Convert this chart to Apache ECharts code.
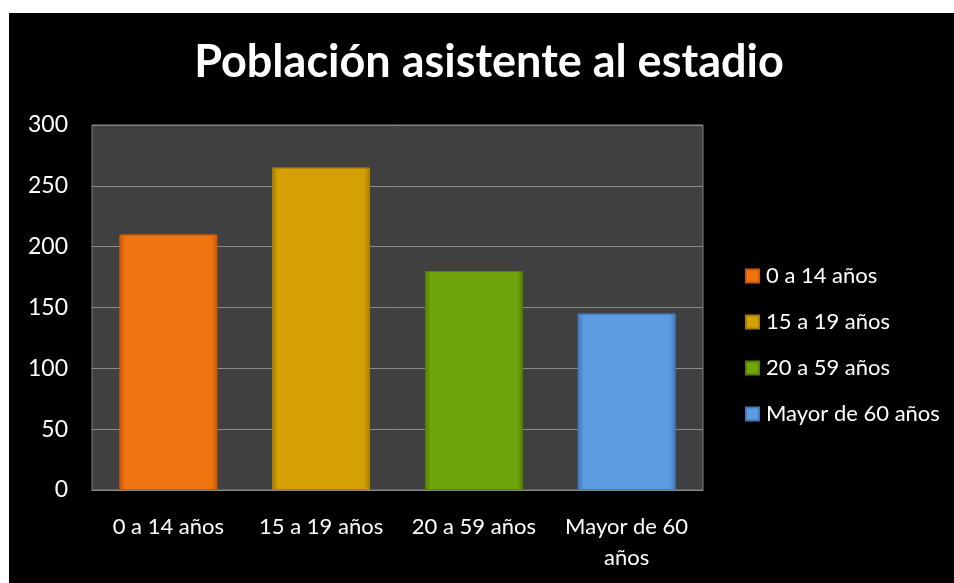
<!DOCTYPE html>
<html>
<head>
<meta charset="utf-8">
<script src="https://cdn.jsdelivr.net/npm/echarts@6/dist/echarts.min.js"></script>
<style>
  html, body { margin: 0; padding: 0; background: #fff; }
  #chart { position: absolute; left: 9px; top: 13px; width: 945px; height: 570px; }
</style>
</head>
<body>
<div id="chart"></div>
<script>
// datos
const categories = ['0 a 14 años', '15 a 19 años', '20 a 59 años', 'Mayor de 60 años'];
const axisLabels = ['0 a 14 años', '15 a 19 años', '20 a 59 años', 'Mayor de 60\naños'];
const values = [210, 265, 180, 145];
const colors = ['#F07410', '#D4A004', '#6FA40A', '#5B9BE0'];
const edgeColors = ['#C85A08', '#A87E02', '#557F06', '#4578B8'];

const chart = echarts.init(document.getElementById('chart'));

const series = categories.map(function (name, i) {
  return {
    name: name,
    type: 'bar',
    stack: 'total',
    barWidth: '64%',
    data: values.map(function (v, j) { return j === i ? v : '-'; }),
    itemStyle: {
      color: new echarts.graphic.LinearGradient(0, 0, 1, 0, [
        { offset: 0, color: edgeColors[i] },
        { offset: 0.06, color: colors[i] },
        { offset: 0.94, color: colors[i] },
        { offset: 1, color: edgeColors[i] }
      ]),
      borderColor: edgeColors[i],
      borderWidth: 1
    }
  };
});

chart.setOption({
  backgroundColor: '#000',
  color: colors,
  title: {
    text: 'Población asistente al estadio',
    left: 475,
    textAlign: 'center',
    top: 22,
    textStyle: { color: '#fff', fontSize: 45, fontWeight: 'bold', fontFamily: 'Lato' }
  },
  legend: {
    orient: 'vertical',
    left: 731,
    top: 247,
    itemWidth: 13,
    itemHeight: 13,
    itemGap: 24,
    icon: 'rect',
    data: categories,
    textStyle: { color: '#fff', fontSize: 22, fontFamily: 'Lato', padding: [0, 0, 0, 2] }
  },
  grid: {
    left: 83, top: 112, right: 251, bottom: 93,
    show: true,
    backgroundColor: '#404040',
    borderColor: '#808080',
    borderWidth: 1
  },
  xAxis: {
    type: 'category',
    data: categories,
    axisTick: { show: false },
    axisLine: { lineStyle: { color: '#8a8a8a' } },
    axisLabel: {
      color: '#fff', fontSize: 22, fontFamily: 'Lato', margin: 21, lineHeight: 31,
      interval: 0, hideOverlap: false,
      formatter: function (v, i) { return axisLabels[i]; }
    }
  },
  yAxis: {
    type: 'value',
    min: 0, max: 300, interval: 50,
    axisLine: { show: false },
    axisTick: { show: false },
    splitLine: { lineStyle: { color: '#8a8a8a' } },
    axisLabel: { color: '#fff', fontSize: 23, fontFamily: 'Lato', margin: 24 }
  },
  series: series
});
</script>
</body>
</html>
